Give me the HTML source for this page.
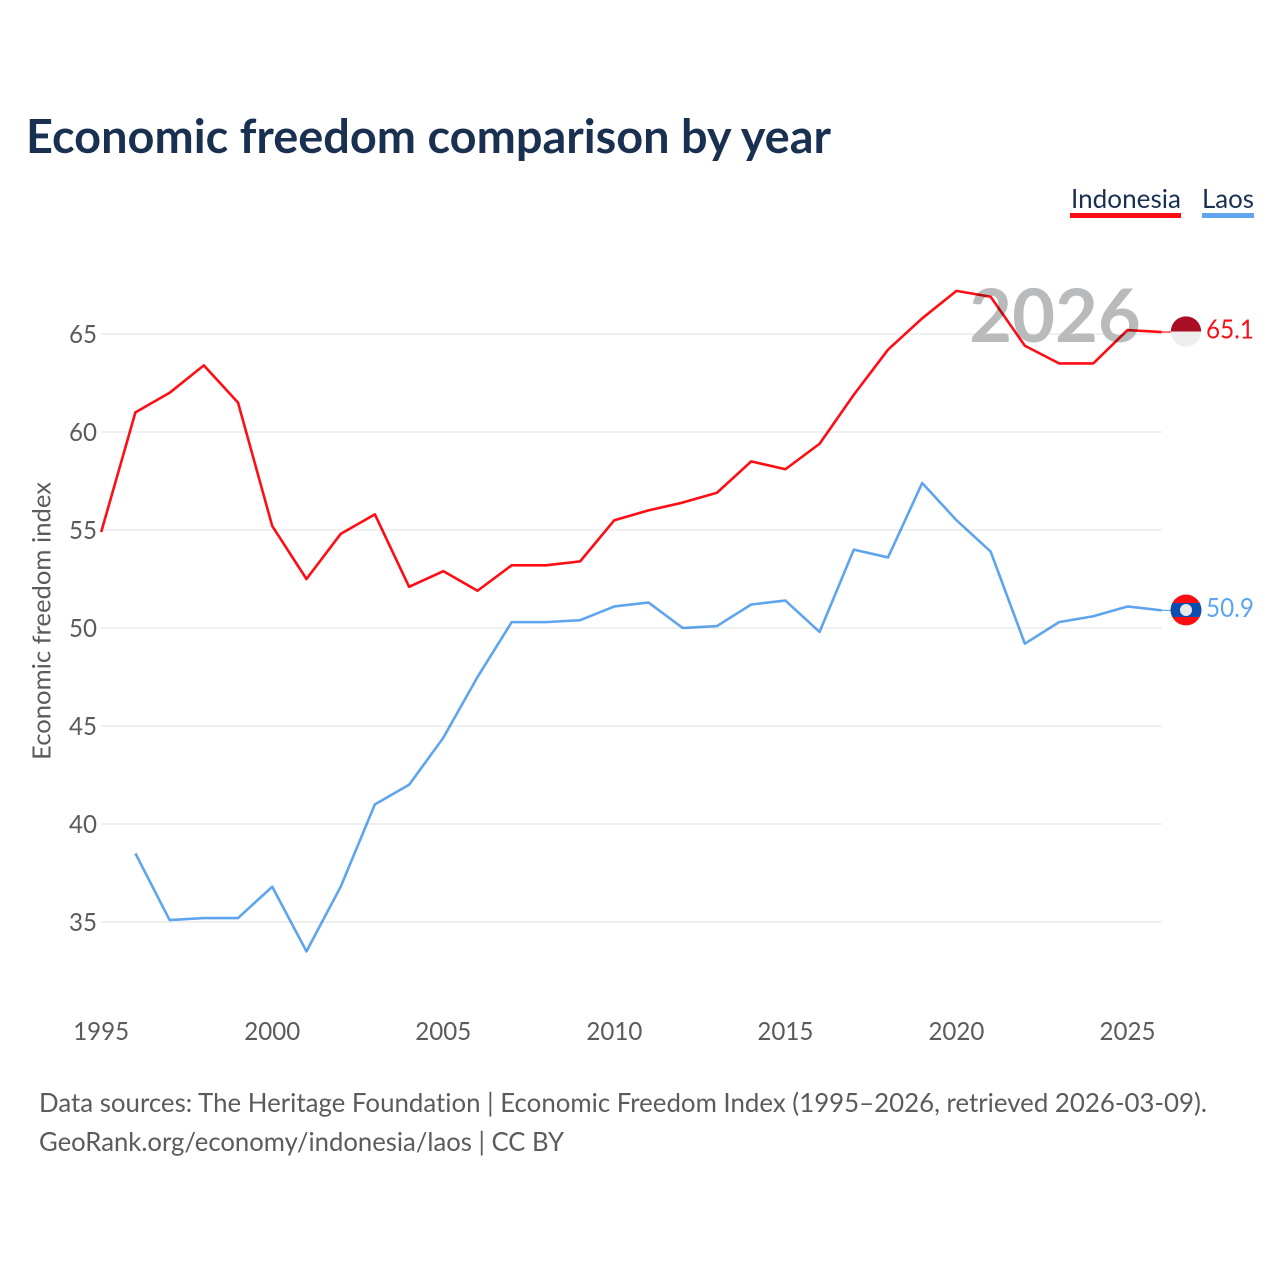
<!DOCTYPE html>
<html lang="en">
<head>
<meta charset="utf-8">
<title>Economic freedom comparison by year</title>
<style>
html,body{margin:0;padding:0;background:#fff;}
svg{display:block;font-family:"Lato","Carlito","Liberation Sans",sans-serif;font-variant-ligatures:none;}
.tick{font-size:25.5px;fill:#5b5b5b;}
.lines{mix-blend-mode:multiply;}
</style>
</head>
<body>
<svg id="chart" width="1280" height="1280" viewBox="0 0 1280 1280" xmlns="http://www.w3.org/2000/svg">
  <defs>
    <clipPath id="clip-id"><circle cx="0" cy="0" r="15.2"/></clipPath>
    <clipPath id="clip-la"><circle cx="0" cy="0" r="15.4"/></clipPath>
  </defs>
  <rect x="0" y="0" width="1280" height="1280" fill="#fff"/>
  <text x="26" y="153" font-size="46.5" font-weight="700" fill="#1a3050" textLength="805" lengthAdjust="spacingAndGlyphs">Economic freedom comparison by year</text>
  <g id="grid"></g>
  <g id="y-ticks"></g>
  <g id="x-ticks"></g>
  <text transform="translate(50.5 621) rotate(-90)" text-anchor="middle" font-size="25" fill="#5b5b5b" textLength="278" lengthAdjust="spacingAndGlyphs">Economic freedom index</text>
  <text x="1055" y="342" text-anchor="middle" font-size="74" font-weight="700" fill="#b9babc">2026</text>
  <g id="series" class="lines"></g>
  <g id="end-markers"></g>

  <g>
    <g>
      <text x="1071" y="208" font-size="26.5" fill="#1a3050" textLength="110" lengthAdjust="spacingAndGlyphs">Indonesia</text>
      <rect x="1070" y="213" width="111" height="5" fill="#ff0d14"/>
    </g>
    <g>
      <text x="1202" y="208" font-size="26.5" fill="#1a3050" textLength="52" lengthAdjust="spacingAndGlyphs">Laos</text>
      <rect x="1202" y="213" width="52" height="5" fill="#5fa5ee"/>
    </g>
  </g>

  <text x="39" y="1112" font-size="26.5" fill="#5b5b5b" textLength="1168" lengthAdjust="spacingAndGlyphs">Data sources: The Heritage Foundation | Economic Freedom Index (1995–2026, retrieved 2026-03-09).</text>
  <text x="39" y="1151" font-size="26.5" fill="#5b5b5b" textLength="525" lengthAdjust="spacingAndGlyphs">GeoRank.org/economy/indonesia/laos | CC BY</text>
</svg>
<script>
const years = [1995,1996,1997,1998,1999,2000,2001,2002,2003,2004,2005,2006,2007,2008,2009,2010,2011,2012,2013,2014,2015,2016,2017,2018,2019,2020,2021,2022,2023,2024,2025,2026];
const indonesiaValues = [54.9,61.0,62.0,63.4,61.5,55.2,52.5,54.8,55.8,52.1,52.9,51.9,53.2,53.2,53.4,55.5,56.0,56.4,56.9,58.5,58.1,59.4,61.9,64.2,65.8,67.2,66.9,64.4,63.5,63.5,65.2,65.1];
const laosValues = [null,38.5,35.1,35.2,35.2,36.8,33.5,36.8,41.0,42.0,44.4,47.5,50.3,50.3,50.4,51.1,51.3,50.0,50.1,51.2,51.4,49.8,54.0,53.6,57.4,55.5,53.9,49.2,50.3,50.6,51.1,50.9];
const yTickValues = [35,40,45,50,55,60,65];
const xTickValues = [1995,2000,2005,2010,2015,2020,2025];

const NS = 'http://www.w3.org/2000/svg';
const plotLeft = 101.2, plotRight = 1161.7;
const xScale = function (year) {
  return plotLeft + (year - years[0]) * (plotRight - plotLeft) / (years[years.length - 1] - years[0]);
};
const yScale = function (value) {
  return 334 + (65 - value) * 19.6;
};
function make(tag, attrs, parent) {
  const el = document.createElementNS(NS, tag);
  Object.keys(attrs).forEach(function (k) { el.setAttribute(k, attrs[k]); });
  parent.appendChild(el);
  return el;
}

const gridGroup = document.getElementById('grid');
const yTickGroup = document.getElementById('y-ticks');
yTickValues.forEach(function (v) {
  const line = make('line', {x1: plotLeft, x2: plotRight, y1: yScale(v), y2: yScale(v), stroke: '#ececec', 'stroke-width': 1.5}, gridGroup);
  
  
  const label = make('text', {x: 97, y: yScale(v) + 9, 'text-anchor': 'end', class: 'tick', textLength: 28, lengthAdjust: 'spacingAndGlyphs'}, yTickGroup);
  
  
  label.textContent = v;
});

const xTickGroup = document.getElementById('x-ticks');
xTickValues.forEach(function (year) {
  const label = make('text', {x: xScale(year), y: 1040, 'text-anchor': 'middle', class: 'tick', textLength: 56, lengthAdjust: 'spacingAndGlyphs'}, xTickGroup);
  
  
  label.textContent = year;
});

const seriesGroup = document.getElementById('series');
const markerGroup = document.getElementById('end-markers');

function drawSeries(values, color, seriesName) {
  let d = '';
  let pen = false;
  values.forEach(function (v, i) {
    if (v === null) { pen = false; return; }
    d += (pen ? 'L' : 'M') + xScale(years[i]).toFixed(2) + ' ' + yScale(v).toFixed(2);
    pen = true;
  });
  const path = make('path', {d: d, fill: 'none', stroke: color, 'stroke-width': 2.6, 'stroke-linejoin': 'round'}, seriesGroup);
  
  

  const last = values[values.length - 1];
  const endY = yScale(last);
  const connector = make('line', {x1: plotRight, x2: 1171, y1: endY, y2: endY, stroke: color, 'stroke-width': 1.2}, markerGroup);
  
  

  const valueLabel = make('text', {x: 1206, y: endY + 6.5, 'font-size': 26, fill: color, textLength: 48, lengthAdjust: 'spacingAndGlyphs'}, markerGroup);
  
  
  valueLabel.textContent = last.toFixed(1);
  return endY;
}

const indonesiaY = drawSeries(indonesiaValues, '#ff0d14', 'indonesia');
const laosY = drawSeries(laosValues, '#5fa5ee', 'laos');

const flagId = make('g', {transform: 'translate(1186 ' + (indonesiaY - 0.5) + ')', 'clip-path': 'url(#clip-id)'}, markerGroup);


make('rect', {x: -16, y: -16, width: 32, height: 16, fill: '#a90f24'}, flagId);
make('rect', {x: -16, y: 0, width: 32, height: 16, fill: '#eeeeee'}, flagId);

const flagLa = make('g', {transform: 'translate(1186 ' + (laosY - 0.4) + ')', 'clip-path': 'url(#clip-la)'}, markerGroup);


make('rect', {x: -16, y: -16, width: 32, height: 32, fill: '#fb0d14'}, flagLa);
make('rect', {x: -16, y: -7, width: 32, height: 14, fill: '#0a4fb0'}, flagLa);
make('circle', {cx: 0, cy: 0, r: 6, fill: '#e8e8e8'}, flagLa);
</script>
</body>
</html>
